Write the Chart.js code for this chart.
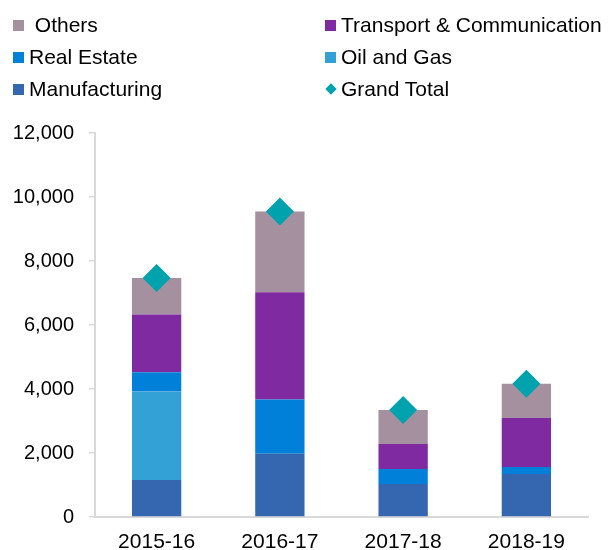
<!DOCTYPE html>
<html lang="en">
<head>
    <meta charset="UTF-8">
    <title>Stacked bars by sector</title>
    <script src="https://cdn.jsdelivr.net/npm/chart.js"></script>
    <style>
        body { margin: 0; background: #fff; }
        #wrap { position: relative; width: 608px; height: 550px; }
        #legend { position: absolute; left: 0; top: 0; width: 608px; height: 110px; font-family: "Liberation Sans", Arial, sans-serif; font-size: 21px; color: #000; }
        .item { position: absolute; height: 24px; line-height: 24px; white-space: pre; }
        .box { position: absolute; top: 7px; width: 11px; height: 11px; }
        .diamond { transform: rotate(45deg); width: 8px; height: 8px; top: 8px; }
        .item span.txt { position: absolute; top: 0; }
    </style>
</head>
<body>
<div id="wrap">
    <canvas id="myChart" width="608" height="550"></canvas>
    <div id="legend"></div>
</div>

<script>
    const years = ['2015-16', '2016-17', '2017-18', '2018-19'];

    // values, bottom segment first
    const manufacturing = [1155, 1980, 1030, 1340];
    const oilGas = [2770, 0, 0, 0];
    const realEstate = [600, 1695, 470, 220];
    const transport = [1800, 3350, 780, 1530];
    const others = [1145, 2520, 1060, 1075];
    const grandTotal = [7470, 9545, 3340, 4165];

    const yTicks = [0, 2000, 4000, 6000, 8000, 10000, 12000];

    const fontFam = '"Liberation Sans", Arial, sans-serif';

    function bar(label, data, color) {
        return {
            type: 'bar',
            label: label,
            data: data,
            backgroundColor: color,
            borderWidth: 0,
            stack: 'bars',
            order: 1,
            categoryPercentage: 0.8,
            barPercentage: 0.5
        };
    }

    const datasets = [
        {
            type: 'line',
            label: 'Grand Total',
            data: grandTotal,
            showLine: false,
            pointStyle: 'rectRot',
            pointRadius: 14,
            pointHoverRadius: 14,
            pointBorderWidth: 0,
            backgroundColor: '#00A3AD',
            borderColor: '#00A3AD',
            stack: 'total',
            order: 0
        },
        bar('Manufacturing', manufacturing, '#3566B0'),
        bar('Oil and Gas', oilGas, '#33A0D6'),
        bar('Real Estate', realEstate, '#0080D8'),
        bar('Transport & Communication', transport, '#7F2AA0'),
        bar('Others', others, '#A5909F')
    ];

    // legend laid out like the original: two columns, three rows
    const legendItems = [
        { label: ' Others', color: '#A5909F', x: 13, y: 13 },
        { label: 'Transport & Communication', color: '#7F2AA0', x: 325, y: 13 },
        { label: 'Real Estate', color: '#0080D8', x: 13, y: 45 },
        { label: 'Oil and Gas', color: '#33A0D6', x: 325, y: 45 },
        { label: 'Manufacturing', color: '#3566B0', x: 13, y: 77 },
        { label: 'Grand Total', color: '#00A3AD', x: 325, y: 77, diamond: true }
    ];
    const legend = document.getElementById('legend');
    legendItems.forEach(it => {
        const d = document.createElement('div');
        d.className = 'item';
        d.style.left = it.x + 'px';
        d.style.top = it.y + 'px';
        const b = document.createElement('div');
        b.className = it.diamond ? 'box diamond' : 'box';
        b.style.background = it.color;
        if (it.diamond) b.style.left = '2px';
        const t = document.createElement('span');
        t.className = 'txt';
        t.style.left = '16px';
        t.textContent = it.label;
        d.appendChild(b);
        d.appendChild(t);
        legend.appendChild(d);
    });

    const ctx = document.getElementById('myChart').getContext('2d');
    const myChart = new Chart(ctx, {
        data: {
            labels: years,
            datasets: datasets
        },
        options: {
            responsive: false,
            animation: false,
            layout: {
                padding: { top: 133, left: 13, right: 20, bottom: 0 }
            },
            plugins: {
                legend: { display: false },
                tooltip: { enabled: false }
            },
            scales: {
                x: {
                    stacked: true,
                    offset: true,
                    afterFit: axis => { axis.height = 33; },
                    grid: { display: true, drawOnChartArea: false, drawTicks: false },
                    border: { display: true, color: '#d9d9d9', width: 2 },
                    ticks: {
                        color: '#000',
                        padding: 13,
                        font: { family: fontFam, size: 21 }
                    }
                },
                y: {
                    stacked: true,
                    min: 0,
                    max: 12000,
                    afterFit: axis => { axis.width = 82; },
                    afterBuildTicks: axis => {
                        axis.ticks = yTicks.map(v => ({ value: v }));
                    },
                    grid: { display: true, drawOnChartArea: false, drawTicks: true, tickLength: 6, color: '#d9d9d9', lineWidth: 1.5 },
                    border: { display: true, color: '#d9d9d9', width: 2 },
                    ticks: {
                        color: '#000',
                        padding: 15,
                        font: { family: fontFam, size: 20 },
                        callback: v => v.toLocaleString('en-US')
                    }
                }
            }
        }
    });
</script>
</body>
</html>
